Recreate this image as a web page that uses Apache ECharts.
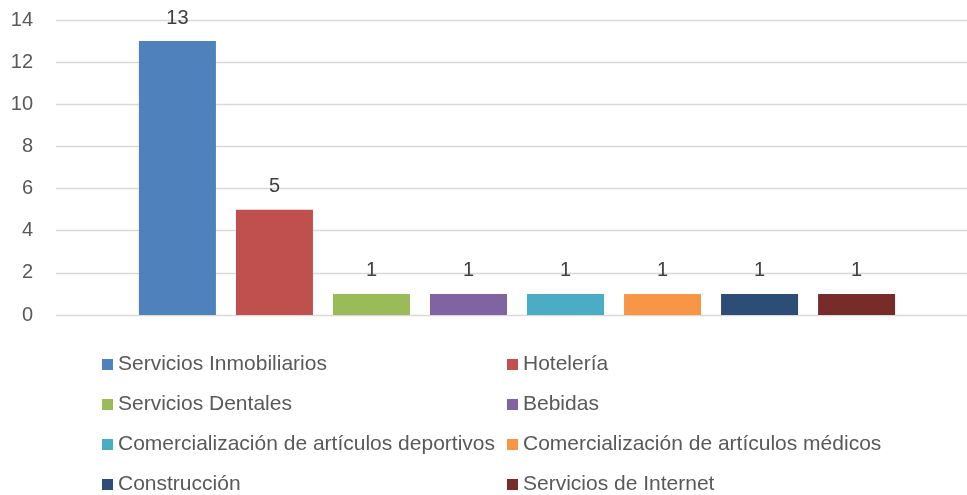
<!DOCTYPE html>
<html>
<head>
<meta charset="utf-8">
<script src="https://cdn.jsdelivr.net/npm/echarts@6/dist/echarts.min.js"></script>
<style>html,body{margin:0;padding:0;background:#fff}#c{width:967px;height:495px}</style>
</head>
<body>
<div id="c"></div>
<script>
const categories = [''];
const seriesNames = ['Servicios Inmobiliarios','Hotelería','Servicios Dentales','Bebidas','Comercialización de artículos deportivos','Comercialización de artículos médicos','Construcción','Servicios de Internet'];
const seriesValues = [13, 5, 1, 1, 1, 1, 1, 1];
const colors = ['#4F81BD','#C0504D','#9BBB59','#8064A2','#4BACC6','#F79646','#2C4D75','#772C2A'];
const yTicks = [0, 2, 4, 6, 8, 10, 12, 14];

const font = '"Liberation Sans", Arial, sans-serif';
const chart = echarts.init(document.getElementById('c'));
const yMin = yTicks[0], yMax = yTicks[yTicks.length - 1];
const series = seriesNames.map((n, i) => ({
  name: n,
  type: 'bar',
  xAxisIndex: 1,
  yAxisIndex: 1,
  data: [seriesValues[i]],
  barWidth: 77,
  barGap: '26%',
  itemStyle: { color: colors[i] },
  label: { show: true, position: 'top', distance: 13, color: '#404040', fontSize: 20, fontFamily: font }
}));
const legendBase = {
  orient: 'vertical', itemWidth: 11, itemHeight: 11, itemGap: 19, icon: 'rect', height: 200,
  textStyle: { color: '#595959', fontSize: 21, fontFamily: font, lineHeight: 19 },
  selectedMode: false
};
chart.setOption({
  animation: false,
  color: colors,
  grid: [
    { left: 56, right: 0, top: 20, bottom: 180 },
    { left: 67, right: 0, top: 20, bottom: 180 }
  ],
  legend: [
    Object.assign({}, legendBase, { left: 97, top: 349, data: seriesNames.filter((_, i) => i % 2 === 0) }),
    Object.assign({}, legendBase, { left: 502, top: 349, data: seriesNames.filter((_, i) => i % 2 === 1) })
  ],
  xAxis: [
    { gridIndex: 0, type: 'category', data: categories, axisLine: { show: false }, axisTick: { show: false }, axisLabel: { show: false } },
    { gridIndex: 1, type: 'category', data: categories, axisLine: { show: false }, axisTick: { show: false }, axisLabel: { show: false } }
  ],
  yAxis: [
    {
      gridIndex: 0, type: 'value', min: yMin, max: yMax, interval: 2,
      axisLine: { show: false }, axisTick: { show: false },
      axisLabel: { color: '#595959', fontSize: 20, fontFamily: font, margin: 23 },
      splitLine: { lineStyle: { color: '#D9D9D9', width: 1.3 } }
    },
    {
      gridIndex: 1, type: 'value', min: yMin, max: yMax, interval: 2, show: false,
      splitLine: { show: false }
    }
  ],
  series: series
});
</script>
</body>
</html>
